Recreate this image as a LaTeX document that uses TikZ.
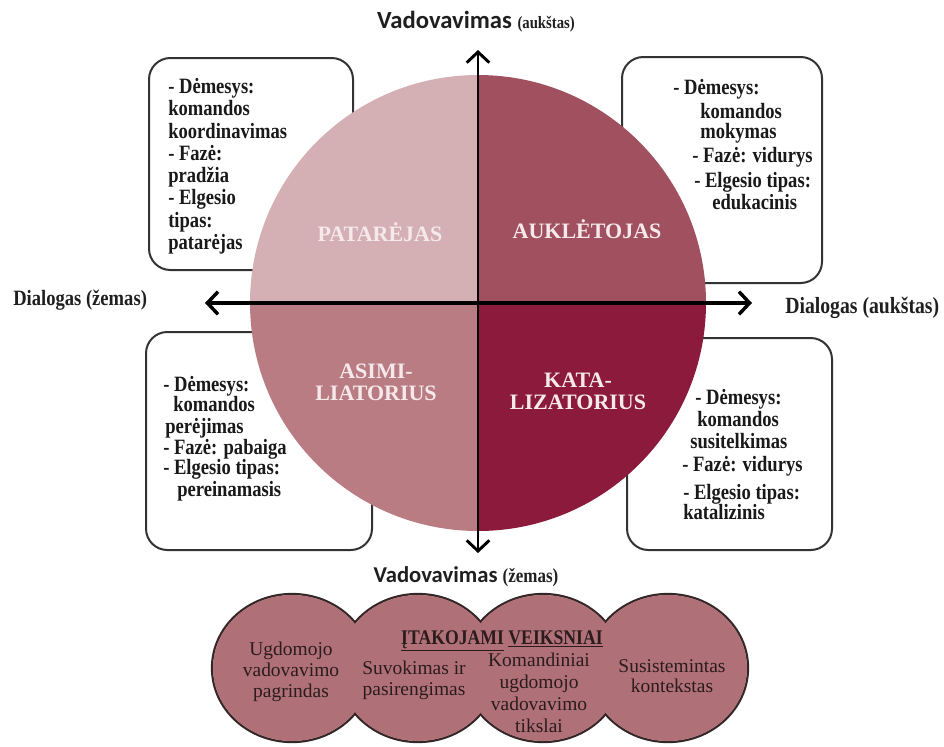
\documentclass[tikz,border=0pt]{standalone}
\usepackage{fontspec}
% explicit faces: condensed bold serif, normal bold serif, regular serif, bold sans
\newfontfamily\cserif{Liberation Serif Bold}[FakeStretch=0.85]
\newfontfamily\bserif{Liberation Serif Bold}
\newfontfamily\rserif{Liberation Serif}
\newfontfamily\calib{Carlito Bold}
\usetikzlibrary{arrows.meta}

\definecolor{qTL}{HTML}{D4B0B5}
\definecolor{qTR}{HTML}{A0505E}
\definecolor{qBL}{HTML}{B97C83}
\definecolor{qBR}{HTML}{8B1A3C}
\definecolor{bub}{HTML}{B07078}
\definecolor{qtext}{HTML}{F6E9EB}
\definecolor{ink}{HTML}{2A1C1C}

\begin{document}
\begin{tikzpicture}[x=0.75pt,y=-0.75pt,
  infobox/.style={draw=black!80, line width=1.5pt, rounded corners=16pt, fill=white},
  boxline/.style={anchor=base west, inner sep=0pt, text=black!90,
    font=\cserif\fontsize{16.4}{16.4}\selectfont},
  quadlabel/.style={anchor=base, inner sep=0pt, text=qtext,
    font=\bserif\fontsize{16.5}{16.5}\selectfont},
  axisline/.style={line width=2.2pt, black,
    {Straight Barb[length=8pt,width=17pt]}-{Straight Barb[length=8pt,width=17pt]}},
  bubble/.style={line width=1.7pt, draw=ink!95},
  bubtext/.style={align=center, inner sep=0pt, text=ink,
    font=\rserif\fontsize{14.6}{15.5}\selectfont},
  axislabel/.style={inner sep=0pt, text=black!88}
]
\useasboundingbox (0,0) rectangle (944,746);

% ---------- info boxes (partly hidden behind the circle) ----------
\draw[infobox] (149,58) rectangle (353,270);
\draw[infobox] (622,57) rectangle (822,283);
\draw[infobox] (146,332) rectangle (372,550);
\draw[infobox] (627,338) rectangle (832,550);

% ---------- quadrant circle ----------
\coordinate (o) at (478,303);
\begin{scope}
  \clip (o) circle (228);
  \fill[qTL] (240,60) rectangle (o);
  \fill[qTR] (478,60) rectangle (720,303);
  \fill[qBL] (240,303) rectangle (478,545);
  \fill[qBR] (o) rectangle (720,545);
\end{scope}

% ---------- axes ----------
\coordinate (vtopend) at (478,50);
\coordinate (vbotend) at (478,553);
\coordinate (hleftend) at (205,303);
\coordinate (hrightend) at (752,303);
\draw[axisline, line width=2.6pt] (hleftend) -- (hrightend);
\draw[axisline] (vbotend) -- (vtopend);

% ---------- axis labels ----------
\node[axislabel] (vhigh) at (476,22)
  {\calib\fontsize{18.5}{18.5}\selectfont Vadovavimas
   {\cserif\fontsize{13}{13}\selectfont (aukštas)}};
\node[axislabel] (vlow) at (466,577)
  {\calib\fontsize{17}{17}\selectfont Vadovavimas
   {\cserif\fontsize{15}{15}\selectfont (žemas)}};
\node[axislabel, anchor=west, font=\cserif\fontsize{16.4}{16.4}\selectfont]
  (dlow) at (13,300) {Dialogas (žemas)};
\node[axislabel, anchor=west, font=\cserif\fontsize{17.4}{17.4}\selectfont]
  (dhigh) at (785,308) {Dialogas (aukštas)};

% ---------- quadrant labels ----------
\node[quadlabel] (patarejas) at (380,241) {PATARĖJAS};
\node[quadlabel] (aukletojas) at (587,238) {AUKLĖTOJAS};
\node[quadlabel] (asimi) at (376,378) {ASIMI-};
\node[quadlabel] (liatorius) at (376,400) {LIATORIUS};
\node[quadlabel] (kata) at (578,387) {KATA-};
\node[quadlabel] (lizatorius) at (578,409) {LIZATORIUS};

% ---------- box texts ----------
\node[boxline] (tl1) at (168,93)  {- Dėmesys:};
\node[boxline] (tl2) at (168,115) {komandos};
\node[boxline] (tl3) at (168,138) {koordinavimas};
\node[boxline] (tl4) at (168,160) {- Fazė:};
\node[boxline] (tl5) at (168,182) {pradžia};
\node[boxline] (tl6) at (168,204) {- Elgesio};
\node[boxline] (tl7) at (168,227) {tipas:};
\node[boxline] (tl8) at (168,249) {patarėjas};

\node[boxline] (tr1) at (673,94)  {- Dėmesys:};
\node[boxline] (tr2) at (700,118) {komandos};
\node[boxline] (tr3) at (700,138) {mokymas};
\node[boxline] (tr4) at (692,162) {- Fazė: vidurys};
\node[boxline] (tr5) at (694,187) {- Elgesio tipas:};
\node[boxline] (tr6) at (712,209) {edukacinis};

\node[boxline] (bl1) at (163,391) {- Dėmesys:};
\node[boxline] (bl2) at (173,411) {komandos};
\node[boxline] (bl3) at (165,433) {perėjimas};
\node[boxline] (bl4) at (163,454) {- Fazė: pabaiga};
\node[boxline] (bl5) at (163,474) {- Elgesio tipas:};
\node[boxline] (bl6) at (177,496) {pereinamasis};

\node[boxline] (br1) at (695,404) {- Dėmesys:};
\node[boxline] (br2) at (697,426) {komandos};
\node[boxline] (br3) at (690,448) {susitelkimas};
\node[boxline] (br4) at (682,471) {- Fazė: vidurys};
\node[boxline] (br5) at (683,499) {- Elgesio tipas:};
\node[boxline] (br6) at (683,519) {katalizinis};

% ---------- chain of factor bubbles ----------
\foreach \cx in {292,418,543,668}
  \draw[bubble] (\cx,668) ellipse [x radius=80, y radius=74];
\foreach \cx in {292,418,543,668}
  \fill[bub] (\cx,668) ellipse [x radius=79, y radius=73];

\node[bubtext] (f1) at (291,672) {Ugdomojo\\vadovavimo\\pagrindas};
\node[bubtext] (f2) at (414,680) {Suvokimas ir\\pasirengimas};
\node[bubtext, font=\rserif\fontsize{14.6}{16.5}\selectfont] (f3) at (539,693)
  {Komandiniai\\ugdomojo\\vadovavimo\\tikslai};
\node[bubtext] (f4) at (672,676) {Susistemintas\\kontekstas};
\node[bubtext, font=\cserif\fontsize{15.6}{15.6}\selectfont] (ftitle) at (502,641)
  {\underline{ĮTAKOJAMI} \underline{VEIKSNIAI}};

\end{tikzpicture}
\end{document}
